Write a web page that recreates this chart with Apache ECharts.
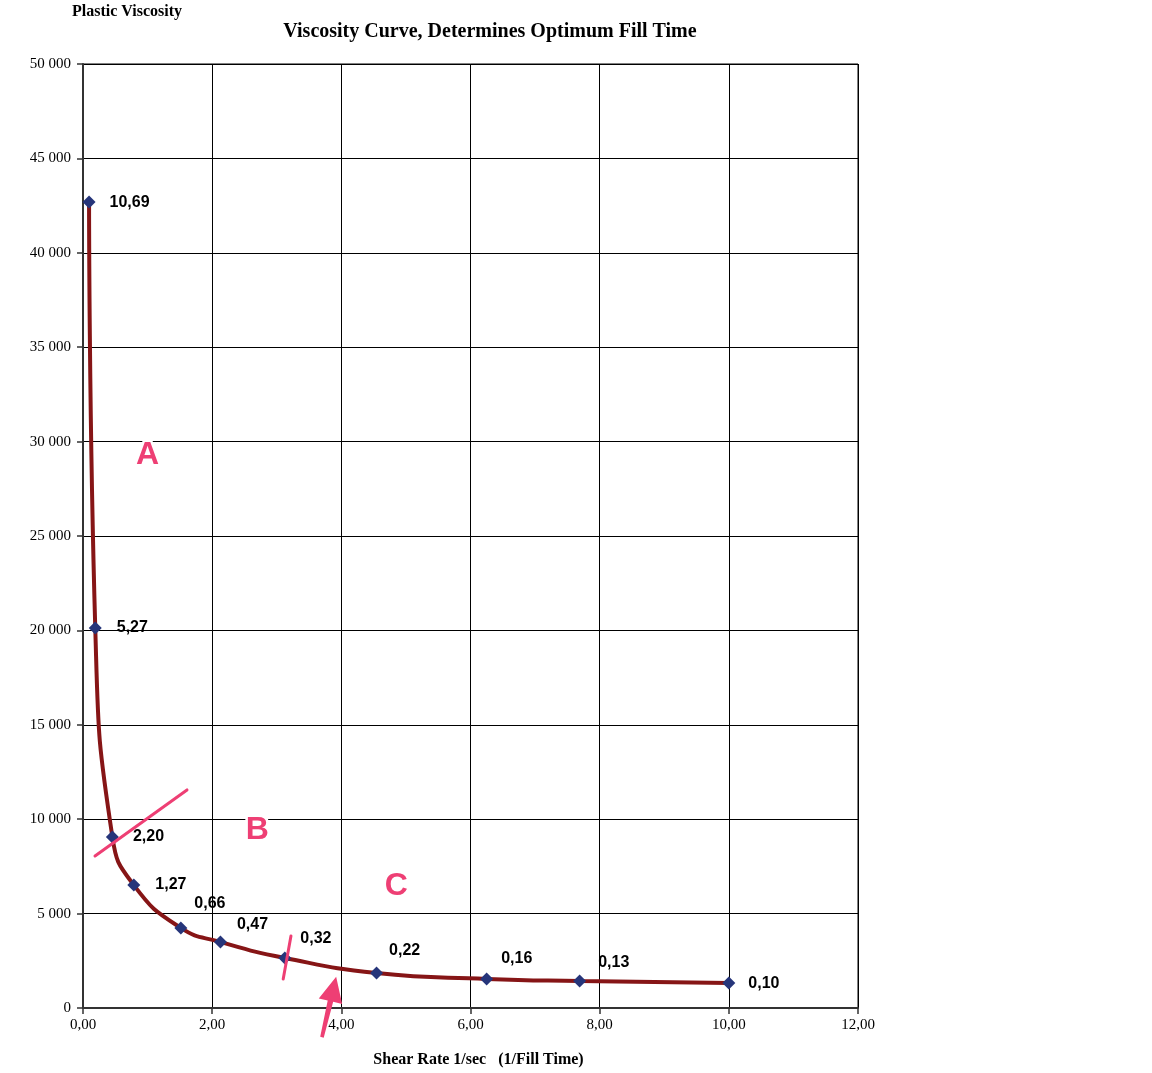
<!DOCTYPE html>
<html><head><meta charset="utf-8">
<script src="https://cdn.jsdelivr.net/npm/echarts@6/dist/echarts.min.js"></script>
<style>html,body{margin:0;padding:0;background:#fff}#c{width:1152px;height:1073px}</style>
</head><body><div id="c"></div>
<script>
// Data
const fillTimes = ['10,69','5,27','2,20','1,27','0,66','0,47','0,32','0,22','0,16','0,13','0,10'];
const shearRate = [0.094, 0.19, 0.455, 0.787, 1.515, 2.128, 3.125, 4.545, 6.25, 7.69, 10.0];
const viscosity = [42690, 20130, 9060, 6510, 4240, 3500, 2650, 1850, 1540, 1430, 1320];
const xTicks = [0, 2, 4, 6, 8, 10, 12];
const yTicks = [0, 5000, 10000, 15000, 20000, 25000, 30000, 35000, 40000, 45000, 50000];
// label offsets (style)
const labelOffsets = [[14,1],[15,0],[14,0],[15,0],[7,-24],[10,-17],[9,-19],[6,-22],[8,-20],[12,-18],[13,1]];

const chart = echarts.init(document.getElementById('c'));
const serif = '"Liberation Serif","DejaVu Serif",serif';
const sans = '"Liberation Sans",Arial,sans-serif';

const data = shearRate.map((x,i)=>({
  value:[x, viscosity[i]],
  label:{show:true, formatter: fillTimes[i], position:'right', distance:0, offset: labelOffsets[i]}
}));

chart.setOption({
  animation:false,
  backgroundColor:'#fff',
  title:[
    {text:'Plastic Viscosity', left:67, top:-1, textStyle:{fontFamily:serif, fontWeight:'bold', fontSize:16, color:'#000'}},
    {text:'Viscosity Curve, Determines Optimum Fill Time', left:485, top:17, textAlign:'center', textStyle:{fontFamily:serif, fontWeight:'bold', fontSize:20, color:'#000'}}
  ],
  grid:{left:83, right:294, top:64, bottom:65, show:true, borderColor:'#000', borderWidth:1},
  xAxis:{type:'value', min:0, max:12, interval:2,
    name:'Shear Rate 1/sec   (1/Fill Time)', nameLocation:'middle', nameGap:44,
    nameTextStyle:{fontFamily:serif, fontWeight:'bold', fontSize:16, color:'#000', padding:[0,0,0,16]},
    axisLine:{show:true, lineStyle:{color:'#333', width:2}},
    axisTick:{show:true, length:6, lineStyle:{color:'#333', width:1.5}},
    axisLabel:{fontFamily:serif, fontSize:15, color:'#000', margin:10,
      formatter:v=>v.toFixed(2).replace('.',',')},
    splitLine:{show:true, lineStyle:{color:'#000', width:1}}
  },
  yAxis:{type:'value', min:0, max:50000, interval:5000,
    axisLine:{show:true, lineStyle:{color:'#333', width:2}},
    axisTick:{show:true, length:6, lineStyle:{color:'#333', width:1.5}},
    axisLabel:{fontFamily:serif, fontSize:15, color:'#000', margin:12,
      formatter:v=>String(v).replace(/\B(?=(\d{3})+(?!\d))/g,' ')},
    splitLine:{show:true, lineStyle:{color:'#000', width:1}}
  },
  series:[{
    type:'line', data:data, smooth:0.5,
    symbol:'diamond', symbolSize:13,
    itemStyle:{color:'#26357a'},
    lineStyle:{color:'#861516', width:4},
    label:{fontFamily:sans, fontWeight:'bold', fontSize:16, color:'#000'},
    z:5
  }]
});

function P(x,y){return chart.convertToPixel({gridIndex:0},[x,y]);}
const pink = '#ee3f74';
const b1 = P(0.186,8050), b2 = P(1.61,11550);
const s1 = P(3.22,3810), s2 = P(3.10,1540);
const tip = P(3.92,1650), tail = P(3.70,-1550);
const dx = tip[0]-tail[0], dy = tip[1]-tail[1];
const L = Math.hypot(dx,dy), ux = dx/L, uy = dy/L, nx = -uy, ny = ux;
const hl = 25, hw = 12, sw = 2.8;
const base = [tip[0]-ux*hl, tip[1]-uy*hl];
const arrowPts = [tip, [base[0]+nx*hw, base[1]+ny*hw], [base[0]+nx*sw, base[1]+ny*sw], [tail[0]+nx*1.8, tail[1]+ny*1.8], [tail[0]-nx*1.8, tail[1]-ny*1.8], [base[0]-nx*sw, base[1]-ny*sw], [base[0]-nx*hw, base[1]-ny*hw]];
function letter(t, x, y){
  const p = P(x,y);
  return {type:'text', x:p[0], y:p[1], z:20,
    style:{text:t, fill:pink, font:'bold 32px '+sans, align:'center', verticalAlign:'middle',
      stroke:'#fff', lineWidth:5, shadowColor:'rgba(0,0,0,0.35)', shadowBlur:3, shadowOffsetY:1}};
}
chart.setOption({graphic:[
  {type:'line', z:20, shape:{x1:b1[0],y1:b1[1],x2:b2[0],y2:b2[1]}, style:{stroke:pink, lineWidth:3, lineCap:'round'}},
  {type:'line', z:20, shape:{x1:s1[0],y1:s1[1],x2:s2[0],y2:s2[1]}, style:{stroke:pink, lineWidth:3, lineCap:'round'}},
  {type:'polygon', z:20, shape:{points:arrowPts}, style:{fill:pink}},
  letter('A', 1.0, 29300),
  letter('B', 2.7, 9420),
  letter('C', 4.85, 6470)
]});
</script></body></html>
